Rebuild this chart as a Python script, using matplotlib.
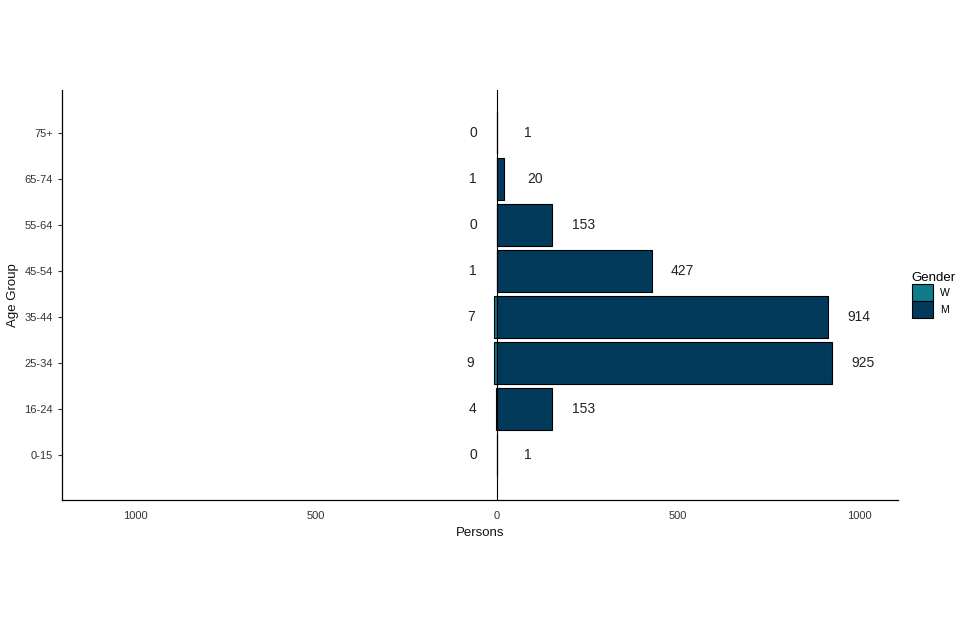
import matplotlib
matplotlib.use("Agg")
import matplotlib.pyplot as plt
import numpy as np

# ── DATA ─────────────────────────────────────────────────────────────────────
age_groups = ["0-15", "16-24", "25-34", "35-44", "45-54", "55-64", "65-74", "75+"]
women = [0, 4, 9, 7, 1, 0, 1, 0]
men = [1, 153, 925, 914, 427, 153, 20, 1]

col_w = "#0f7c8c"
col_m = "#023a5c"

plt.rcParams["font.family"] = ["Liberation Sans", "DejaVu Sans"]

fig = plt.figure(figsize=(9.6, 6.4), dpi=100)
ax = fig.add_axes([62 / 960, 1 - 500 / 640, (898 - 62) / 960, (500 - 90) / 640])

y = np.arange(len(age_groups))
w_neg = [-v for v in women]

ax.barh(y, w_neg, height=0.9, color=col_w, edgecolor="black", linewidth=0.8, label="W", zorder=2)
ax.barh(y, men, height=0.9, color=col_m, edgecolor="black", linewidth=0.8, label="M", zorder=2)
ax.axvline(0, color="black", linewidth=0.8, zorder=3)

# value labels
for yi, v in zip(y, women):
    ax.text(-(v + 65), yi, str(v), ha="center", va="center", fontsize=10, color="#222222")
for yi, v in zip(y, men):
    ax.text(v + 85, yi, str(v), ha="center", va="center", fontsize=10, color="#222222")

ax.set_xlim(-1202, 1108)
ax.set_ylim(-0.98, 7.93)
ax.set_yticks(y)
ax.set_yticklabels(age_groups, fontsize=8, color="#333333")
ax.set_xticks([-1000, -500, 0, 500, 1000])
ax.set_xticklabels(["1000", "500", "0", "500", "1000"], fontsize=8, color="#333333")
ax.tick_params(axis="x", length=0, pad=8)
ax.tick_params(axis="y", length=3, width=0.8, color="#333333")

for side in ["top", "right"]:
    ax.spines[side].set_visible(False)
for side in ["left", "bottom"]:
    ax.spines[side].set_linewidth(0.9)

ax.set_xlabel("Persons", fontsize=9.5, color="#111111", labelpad=4)
ax.set_ylabel("Age Group", fontsize=9.5, color="#111111", labelpad=4)

leg = ax.legend(title="Gender", loc="center left", bbox_to_anchor=(1.005, 0.5),
                frameon=False, fontsize=7.5, title_fontsize=9.5,
                handlelength=2.1, handleheight=2.1, handletextpad=0.6,
                labelspacing=0.0, alignment="left")

fig.savefig("out.png", dpi=100)
